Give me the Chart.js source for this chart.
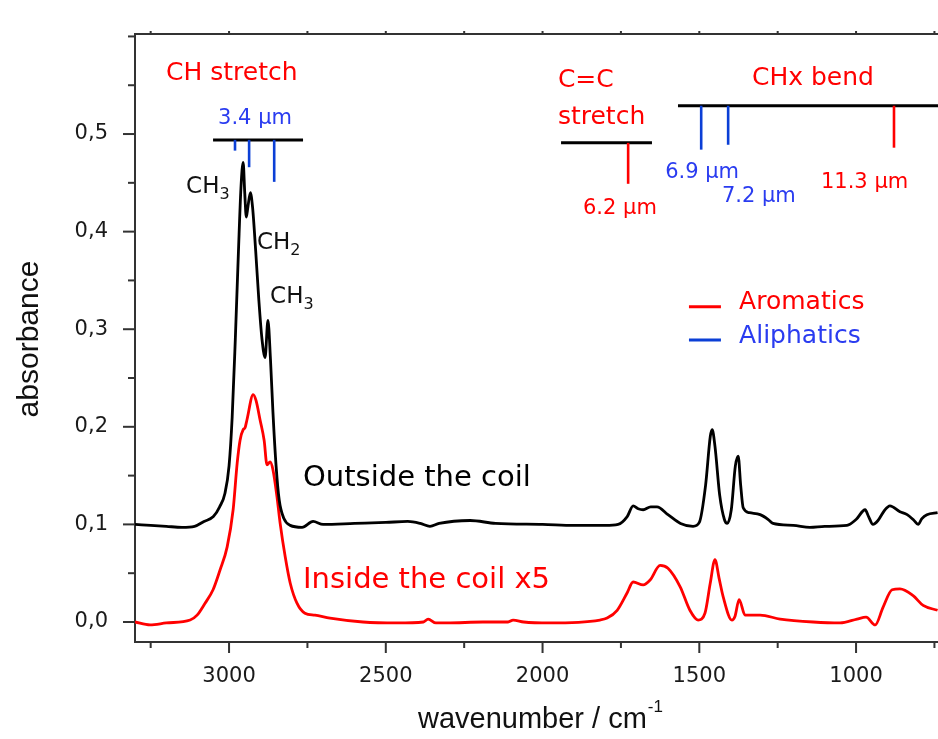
<!DOCTYPE html>
<html>
<head>
<meta charset="utf-8">
<script src="https://cdn.jsdelivr.net/npm/chart.js@4.4.1/dist/chart.umd.min.js"></script>
<style>
  html, body { margin: 0; padding: 0; background: #fff; overflow: hidden; }
  canvas { display: block; }
</style>
</head>
<body>
<canvas id="myChart" width="960" height="739"></canvas>
<script>
// Outside the coil (black), wavenumber / absorbance
const outsideWn = [3300, 3250, 3200, 3150, 3110, 3080, 3050, 3030, 3013, 3000, 2990, 2980, 2970, 2962, 2955, 2950, 2945, 2940, 2932, 2925, 2915, 2905, 2895, 2885, 2876, 2868, 2860, 2850, 2840, 2825, 2805, 2767, 2732, 2700, 2600, 2500, 2430, 2390, 2359, 2330, 2231, 2150, 2000, 1900, 1800, 1759, 1730, 1711, 1695, 1679, 1655, 1635, 1600, 1560, 1520, 1500, 1480, 1465, 1459, 1450, 1435, 1420, 1411, 1398, 1385, 1376, 1368, 1360, 1340, 1306, 1280, 1265, 1200, 1147, 1100, 1029, 1000, 971, 960, 946, 930, 910, 892, 860, 837, 815, 802, 790, 774, 740];
const outsideAbs = [0.100, 0.099, 0.098, 0.097, 0.098, 0.103, 0.108, 0.118, 0.132, 0.160, 0.210, 0.290, 0.380, 0.445, 0.471, 0.440, 0.415, 0.425, 0.440, 0.425, 0.380, 0.330, 0.290, 0.271, 0.309, 0.270, 0.215, 0.160, 0.125, 0.106, 0.099, 0.097, 0.103, 0.100, 0.101, 0.102, 0.103, 0.101, 0.098, 0.101, 0.104, 0.101, 0.100, 0.099, 0.099, 0.100, 0.108, 0.119, 0.116, 0.115, 0.118, 0.118, 0.110, 0.101, 0.098, 0.102, 0.140, 0.190, 0.197, 0.180, 0.130, 0.105, 0.101, 0.115, 0.160, 0.170, 0.140, 0.117, 0.112, 0.110, 0.105, 0.101, 0.099, 0.097, 0.098, 0.099, 0.105, 0.115, 0.108, 0.100, 0.104, 0.114, 0.119, 0.113, 0.110, 0.104, 0.100, 0.106, 0.110, 0.112];

// Inside the coil x5 (red)
const insideWn = [3300, 3252, 3200, 3124, 3102, 3077, 3051, 3029, 3006, 2987, 2974, 2965, 2955, 2949, 2943, 2923, 2914, 2901, 2888, 2879, 2869, 2860, 2847, 2837, 2821, 2805, 2783, 2758, 2726, 2678, 2573, 2464, 2380, 2365, 2340, 2305, 2190, 2110, 2094, 2060, 1976, 1817, 1794, 1762, 1730, 1711, 1679, 1657, 1625, 1600, 1561, 1530, 1504, 1482, 1465, 1450, 1437, 1424, 1396, 1386, 1373, 1354, 1306, 1242, 1137, 1051, 997, 968, 939, 914, 885, 860, 818, 786, 740];
const insideAbs = [0.000, -0.003, -0.001, 0.002, 0.007, 0.019, 0.033, 0.053, 0.077, 0.115, 0.163, 0.186, 0.197, 0.199, 0.207, 0.233, 0.227, 0.207, 0.186, 0.161, 0.164, 0.156, 0.128, 0.101, 0.067, 0.040, 0.019, 0.009, 0.007, 0.004, 0.000, -0.001, 0.000, 0.003, -0.001, -0.001, 0.000, 0.000, 0.002, 0.000, -0.001, 0.002, 0.004, 0.012, 0.030, 0.041, 0.038, 0.043, 0.058, 0.055, 0.036, 0.012, 0.002, 0.009, 0.040, 0.064, 0.045, 0.026, 0.002, 0.006, 0.023, 0.007, 0.007, 0.003, 0.000, -0.001, 0.003, 0.005, -0.003, 0.015, 0.033, 0.034, 0.027, 0.017, 0.012];

const seriesLabels = ['Outside the coil', 'Inside the coil x5'];
const xMajorTicks = [3000, 2500, 2000, 1500, 1000];
const yMajorTicks = [0.0, 0.1, 0.2, 0.3, 0.4, 0.5];

// band markers: bracket lines and the band lines hanging from them
const brackets = [
    { from: 3051, to: 2764, y: 0.494 },
    { from: 1941, to: 1651, y: 0.491 },
    { from: 1568, to: 600, y: 0.529 }
];
const bandLines = [
    { wn: 2981, top: 0.494, bottom: 0.483, kind: 'ali' },
    { wn: 2936, top: 0.494, bottom: 0.466, kind: 'ali' },
    { wn: 2856, top: 0.494, bottom: 0.451, kind: 'ali' },
    { wn: 1727, top: 0.491, bottom: 0.449, kind: 'aro' },
    { wn: 1494, top: 0.529, bottom: 0.484, kind: 'ali' },
    { wn: 1408, top: 0.529, bottom: 0.489, kind: 'ali' },
    { wn: 879, top: 0.529, bottom: 0.486, kind: 'aro' }
];
const notes = [
    { text: 'CH stretch', wn: 3201, y: 0.5625, kind: 'title' },
    { text: '3.4 μm', wn: 3035, y: 0.516, kind: 'ali' },
    { text: 'C=C', wn: 1951, y: 0.555, kind: 'title' },
    { text: 'stretch', wn: 1951, y: 0.517, kind: 'title' },
    { text: 'CHx bend', wn: 1332, y: 0.557, kind: 'title' },
    { text: '6.2 μm', wn: 1871, y: 0.424, kind: 'aro' },
    { text: '6.9 μm', wn: 1609, y: 0.461, kind: 'ali' },
    { text: '7.2 μm', wn: 1428, y: 0.4355, kind: 'ali' },
    { text: '11.3 μm', wn: 1112, y: 0.450, kind: 'aro' }
];
const groups = [
    { base: 'CH', sub: '3', wn: 3137, y: 0.4457 },
    { base: 'CH', sub: '2', wn: 2911, y: 0.388 },
    { base: 'CH', sub: '3', wn: 2869, y: 0.333 }
];
const curveNotes = [
    { text: 'Outside the coil', wn: 2764, y: 0.1475, color: '#000000' },
    { text: 'Inside the coil x5', wn: 2764, y: 0.043, color: '#ff0000' }
];
const legendItems = [
    { text: 'Aromatics', y: 0.327, kind: 'aro' },
    { text: 'Aliphatics', y: 0.293, kind: 'ali' }
];

const RED = '#ff0000';
const BLUE_LINE = '#0b3fd6';
const BLUE_TEXT = '#2a3cf0';
const FONT = '"DejaVu Sans", Verdana, sans-serif';

function toPoints(xs, ys){
    return xs.map((x, i) => ({ x: x, y: ys[i] }));
}

const decorations = {
    id: 'decorations',
    afterDraw(chart){
        const ctx = chart.ctx;
        const xs = chart.scales.x;
        const ys = chart.scales.y;
        const area = chart.chartArea;
        const px = v => xs.getPixelForValue(v);
        const py = v => ys.getPixelForValue(v);
        ctx.save();

        // top spine
        ctx.strokeStyle = '#333';
        ctx.lineWidth = 2;
        ctx.beginPath();
        ctx.moveTo(area.left - 1, area.top);
        ctx.lineTo(area.right, area.top);
        ctx.stroke();

        // ticks
        ctx.lineWidth = 2;
        xs.ticks.forEach(t => {
            const x = px(t.value);
            const len = xMajorTicks.includes(t.value) ? 11 : 6;
            ctx.beginPath();
            ctx.moveTo(x, area.bottom);
            ctx.lineTo(x, area.bottom + len);
            ctx.moveTo(x, area.top);
            ctx.lineTo(x, area.top - 3);
            ctx.stroke();
        });
        ys.ticks.forEach(t => {
            const y = py(t.value);
            const major = yMajorTicks.some(m => Math.abs(m - t.value) < 1e-6);
            const len = major ? 12 : 7;
            ctx.beginPath();
            ctx.moveTo(area.left, y);
            ctx.lineTo(area.left - len, y);
            ctx.stroke();
        });

        // brackets
        ctx.strokeStyle = '#000';
        ctx.lineWidth = 3;
        brackets.forEach(b => {
            ctx.beginPath();
            ctx.moveTo(px(b.from), py(b.y));
            ctx.lineTo(px(b.to), py(b.y));
            ctx.stroke();
        });
        bandLines.forEach(b => {
            ctx.strokeStyle = b.kind == 'aro' ? RED : BLUE_LINE;
            ctx.lineWidth = 2.6;
            ctx.beginPath();
            ctx.moveTo(px(b.wn), py(b.top));
            ctx.lineTo(px(b.wn), py(b.bottom));
            ctx.stroke();
        });

        ctx.textAlign = 'left';
        ctx.textBaseline = 'middle';
        notes.forEach(n => {
            if(n.kind == 'title'){
                ctx.font = '25px ' + FONT;
                ctx.fillStyle = RED;
            }
            else {
                ctx.font = '21px ' + FONT;
                ctx.fillStyle = n.kind == 'aro' ? RED : BLUE_TEXT;
            }
            ctx.fillText(n.text, px(n.wn), py(n.y));
        });

        ctx.fillStyle = '#111';
        groups.forEach(g => {
            ctx.font = '23px ' + FONT;
            const x = px(g.wn), y = py(g.y);
            ctx.fillText(g.base, x, y);
            const w = ctx.measureText(g.base).width;
            ctx.font = '16px ' + FONT;
            ctx.fillText(g.sub, x + w, y + 8);
        });

        ctx.font = '29px ' + FONT;
        curveNotes.forEach(c => {
            ctx.fillStyle = c.color;
            ctx.fillText(c.text, px(c.wn), py(c.y));
        });

        // legend
        legendItems.forEach(l => {
            const col = l.kind == 'aro' ? RED : BLUE_LINE;
            ctx.strokeStyle = col;
            ctx.lineWidth = 3;
            ctx.beginPath();
            ctx.moveTo(px(1533), py(l.y) + 4);
            ctx.lineTo(px(1431), py(l.y) + 4);
            ctx.stroke();
            ctx.font = '25px ' + FONT;
            ctx.fillStyle = l.kind == 'aro' ? RED : BLUE_TEXT;
            ctx.fillText(l.text, px(1373), py(l.y));
        });

        // axis titles
        ctx.fillStyle = '#111';
        ctx.font = '29px "Liberation Sans", Arial, sans-serif';
        ctx.textAlign = 'left';
        ctx.textBaseline = 'alphabetic';
        const main = 'wavenumber / cm';
        const mw = ctx.measureText(main).width;
        const tx = 418;
        ctx.fillText(main, tx, 728);
        ctx.font = '17px "Liberation Sans", Arial, sans-serif';
        ctx.fillText('-1', tx + mw + 1, 712);

        ctx.save();
        ctx.translate(38, 339);
        ctx.rotate(-Math.PI / 2);
        ctx.textAlign = 'center';
        ctx.font = '30px "Liberation Sans", Arial, sans-serif';
        ctx.fillText('absorbance', 0, 0);
        ctx.restore();

        ctx.restore();
    }
};

let myChart = null;

function createChart(){
    const ctx = document.querySelector('#myChart').getContext('2d');
    return myChart = new Chart(ctx, {
        type: 'line',
        data: {
            datasets: [
                {
                    label: seriesLabels[0],
                    data: toPoints(outsideWn, outsideAbs),
                    borderColor: '#000000',
                    borderWidth: 2.8,
                    pointRadius: 0,
                    cubicInterpolationMode: 'monotone'
                },
                {
                    label: seriesLabels[1],
                    data: toPoints(insideWn, insideAbs),
                    borderColor: '#ff0000',
                    borderWidth: 2.8,
                    pointRadius: 0,
                    cubicInterpolationMode: 'monotone'
                }
            ]
        },
        options: {
            responsive: false,
            animation: false,
            devicePixelRatio: 1,
            layout: { padding: { top: 34, right: 5, left: 0, bottom: 0 } },
            plugins: {
                legend: { display: false },
                tooltip: { enabled: false }
            },
            scales: {
                x: {
                    type: 'linear',
                    reverse: true,
                    min: 684.4,
                    max: 3300,
                    afterFit: s => { s.height = 97; },
                    grid: { display: false },
                    border: { display: true, color: '#333', width: 2 },
                    ticks: {
                        stepSize: 250,
                        includeBounds: false,
                        autoSkip: false,
                        maxRotation: 0,
                        padding: 14,
                        color: '#1a1a1a',
                        font: { family: 'DejaVu Sans', size: 21 },
                        callback: v => xMajorTicks.includes(v) ? String(v) : ''
                    }
                },
                y: {
                    min: -0.0205,
                    max: 0.6025,
                    afterFit: s => { s.width = 135; },
                    grid: { display: false },
                    border: { display: true, color: '#333', width: 2 },
                    ticks: {
                        stepSize: 0.05,
                        includeBounds: false,
                        padding: 19,
                        color: '#1a1a1a',
                        font: { family: 'DejaVu Sans', size: 21 },
                        callback: v => {
                            const m = yMajorTicks.find(t => Math.abs(t - v) < 1e-6);
                            return m === undefined ? '' : m.toFixed(1).replace('.', ',');
                        }
                    }
                }
            }
        },
        plugins: [decorations]
    });
}

createChart();
</script>
</body>
</html>
